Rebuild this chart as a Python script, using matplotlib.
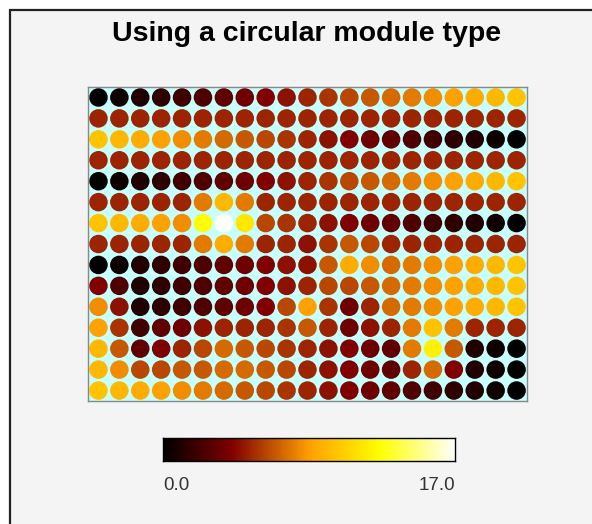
## import libraries

import numpy as np
import matplotlib
matplotlib.use("Agg")
import matplotlib.pyplot as plt
from matplotlib.colors import LinearSegmentedColormap
from matplotlib.patches import Rectangle

## data: one value per circle, 15 rows x 21 columns (top row first)

row_00 = [0, 0.5, 1, 1.5, 2, 2.5, 3, 3.5, 4, 4.5, 5, 5.5, 6, 6.5, 7, 7.5, 8, 8.5, 9, 9.5, 10]
row_01 = [5] * 21
row_02 = [10, 9.5, 9, 8.5, 8, 7.5, 7, 6.5, 6, 5.5, 5, 4.5, 4, 3.5, 3, 2.5, 2, 1.5, 1, 0.5, 0]
row_03 = [5] * 21
row_04 = [0, 0.5, 1, 1.5, 2, 2.5, 3, 3.5, 4, 4.5, 5, 5.5, 6, 6.5, 7, 7.5, 8, 8.5, 9, 9.5, 10]
row_05 = [5, 5, 5, 5, 5, 7.5, 9.5, 7.5, 5, 5, 5, 5, 5, 5, 5, 5, 5, 5, 5, 5, 5]
row_06 = [10, 9.5, 9, 8.5, 8, 12.5, 17, 11.5, 6, 5.5, 5, 4.5, 4, 3.5, 3, 2.5, 2, 1.5, 1, 0.5, 0]
row_07 = [5, 5, 5, 5, 5, 7.5, 9, 7.5, 5, 5, 4.5, 5.5, 6.5, 6, 5, 5, 5, 5, 5, 5, 5]
row_08 = [0, 0.5, 1, 1.5, 2, 2.5, 3, 3.5, 4, 4.5, 4.5, 6.5, 9, 8, 7, 7.5, 8, 8.5, 9, 9.5, 10]
row_09 = [4, 2.5, 1, 1.5, 2, 2.5, 3, 3.5, 4, 4.5, 5, 6, 6, 6.5, 7, 7.5, 8, 8.5, 9, 9.5, 10]
row_10 = [8, 4.5, 1, 1.5, 2, 2.5, 3, 3.5, 4, 6, 8.5, 5.5, 3.5, 5, 7, 7.5, 8, 8.5, 9, 9.5, 10]
row_11 = [8.5, 5.5, 2, 3, 3.5, 4.5, 5, 5, 5, 5.5, 6.5, 5, 3.5, 4.5, 5, 7.5, 10, 7.5, 5, 5, 5]
row_12 = [9.5, 6.5, 3, 4, 5, 6, 7, 6.5, 6, 5.5, 5, 4.5, 4, 3.5, 3, 7.5, 12, 6.5, 1, 0.5, 0]
row_13 = [9.5, 8, 6, 6, 6.5, 6.5, 7, 7, 6.5, 6, 5, 4.5, 4, 3.5, 3, 5, 7, 4, 1, 0.5, 0]
row_14 = [10, 9.5, 9, 8.5, 8, 7.5, 7, 6.5, 6, 5.5, 5, 4.5, 4, 3.5, 3, 2.5, 2, 1.5, 1, 0.5, 0]

rows = [row_00, row_01, row_02, row_03, row_04, row_05, row_06, row_07,
        row_08, row_09, row_10, row_11, row_12, row_13, row_14]
z_min, z_max = 0.0, 17.0

## colour scale: black -> maroon -> orange -> yellow -> white

cmap = LinearSegmentedColormap.from_list(
    "heat", [(0.0, "#000000"), (0.235, "#800000"), (0.5, "#ffa000"),
             (0.74, "#ffff00"), (1.0, "#ffffff")])

W, H = 592, 524
fig = plt.figure(figsize=(W / 100, H / 100), dpi=100)
fig.patch.set_facecolor("white")

# frame: light grey panel with a dark edge on top and left
fig.patches.append(Rectangle((10 / W, -0.1), 1.2, 1 - 10 / H + 0.1,
                             transform=fig.transFigure, facecolor="#f4f4f4",
                             edgecolor="#222222", linewidth=1.6, zorder=-5))

fig.text(307 / W, 1 - 34 / H, "Using a circular module type", ha="center", va="center",
         fontsize=20.5, fontweight="bold", family="Liberation Sans")

## grid of circles

ax = fig.add_axes([88 / W, 1 - 401 / H, 439 / W, 314 / H])
ax.set_zorder(2)
ax.set_facecolor("#c8ffff")
z = np.array(rows)
yy, xx = np.mgrid[0:z.shape[0], 0:z.shape[1]]
ax.scatter(xx.ravel(), yy.ravel(), c=z.ravel(), cmap=cmap, vmin=z_min, vmax=z_max,
           s=178, linewidths=0)
ax.set_xlim(-0.5, z.shape[1] - 0.5)
ax.set_ylim(z.shape[0] - 0.5, -0.5)
ax.set_xticks([])
ax.set_yticks([])
for sp in ax.spines.values():
    sp.set_color("#888888")
    sp.set_linewidth(1)

## colour bar

cax = fig.add_axes([163 / W, 1 - 461 / H, 292 / W, 23 / H])
cax.set_zorder(2)
cax.imshow(np.linspace(z_min, z_max, 256)[None, :], cmap=cmap, aspect="auto",
           extent=[z_min, z_max, 0, 1], vmin=z_min, vmax=z_max)
cax.set_xticks([])
cax.set_yticks([])
for sp in cax.spines.values():
    sp.set_color("black")
    sp.set_linewidth(1)

fig.text(163 / W, 1 - 486 / H, "%.1f" % z_min, ha="left", va="center",
         fontsize=13.5, family="Liberation Sans", color="#333333")
fig.text(455 / W, 1 - 486 / H, "%.1f" % z_max, ha="right", va="center",
         fontsize=13.5, family="Liberation Sans", color="#333333")

fig.savefig("out.png", dpi=100)
